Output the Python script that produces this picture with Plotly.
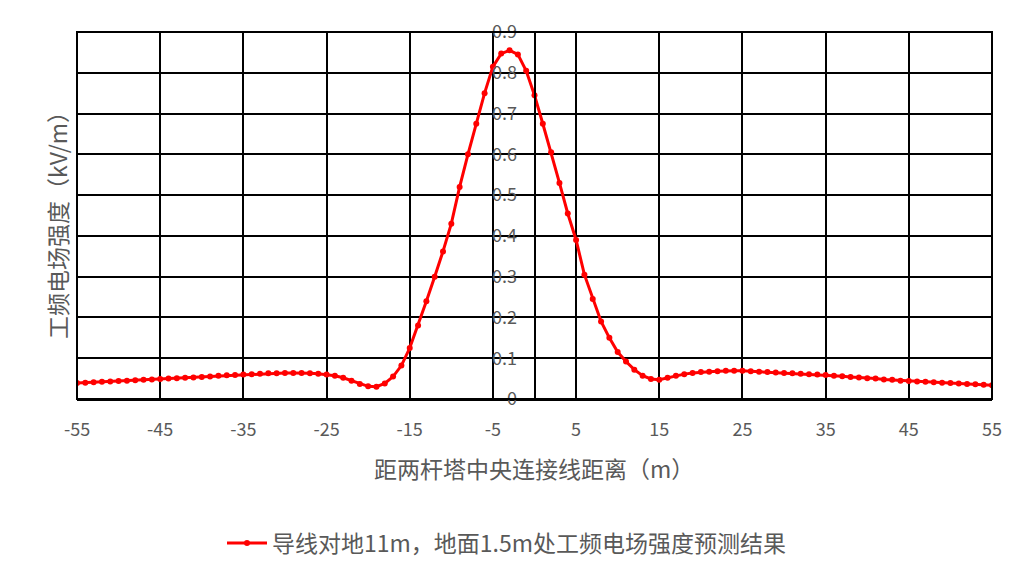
import plotly.graph_objects as go

distance_m = list(range(-55, 56))
field_kv_m = [
    0.039, 0.040, 0.041, 0.042, 0.043, 0.044, 0.045, 0.046, 0.047, 0.048,
    0.049, 0.050, 0.051, 0.052, 0.053, 0.054, 0.055, 0.057, 0.058, 0.059,
    0.060, 0.061, 0.062, 0.063, 0.063, 0.064, 0.064, 0.064, 0.063, 0.062,
    0.060, 0.057, 0.052, 0.045, 0.037, 0.031, 0.030, 0.038, 0.055, 0.082,
    0.125, 0.180, 0.240, 0.300, 0.362, 0.430, 0.520, 0.600, 0.675, 0.750,
    0.815, 0.847, 0.855, 0.845, 0.805, 0.745, 0.675, 0.605, 0.530, 0.455,
    0.390, 0.305, 0.245, 0.190, 0.150, 0.115, 0.092, 0.072, 0.057, 0.049,
    0.047, 0.052, 0.057, 0.061, 0.064, 0.066, 0.067, 0.068, 0.069, 0.069,
    0.069, 0.068, 0.067, 0.066, 0.065, 0.064, 0.063, 0.062, 0.061, 0.060,
    0.059, 0.057, 0.056, 0.054, 0.053, 0.051, 0.050, 0.048, 0.047, 0.045,
    0.044, 0.043, 0.042, 0.041, 0.040, 0.039, 0.038, 0.037, 0.036, 0.035,
    0.034,
]
x_ticks = list(range(-55, 56, 10))
x_tick_text = ["-55", "-45", "-35", "-25", "-15", "-5", "5", "15", "25", "35", "45", "55"]
y_ticks = [0, 0.1, 0.2, 0.3, 0.4, 0.5, 0.6, 0.7, 0.8, 0.9]
y_tick_text = ["0", "0.1", "0.2", "0.3", "0.4", "0.5", "0.6", "0.7", "0.8", "0.9"]

series_name = "导线对地11m，地面1.5m处工频电场强度预测结果"
x_title = "距两杆塔中央连接线距离（m）"
y_title = "工频电场强度（kV/m）"

FONT = "Noto Sans CJK SC"
GRAY = "#595959"

# page offset caused by default body margin
OFF = 8

fig = go.Figure()
fig.add_trace(go.Scatter(
    x=distance_m, y=field_kv_m, name=series_name,
    mode="lines+markers",
    line=dict(color="#FF0000", width=3),
    marker=dict(color="#FF0000", size=6),
))

W, H = 998, 562
ml, mt = 77 - OFF, 32 - OFF
mr = W - (992 - OFF)
mb = H - (399 - OFF)
pw, ph = W - ml - mr, H - mt - mb

def py(page_y):
    return (399 - page_y) / ph

def px(page_x):
    return (page_x - 77) / pw

fig.update_layout(
    width=W, height=H,
    margin=dict(l=ml, r=mr, t=mt, b=mb, autoexpand=False),
    paper_bgcolor="white", plot_bgcolor="white",
    font=dict(family=FONT, color=GRAY, size=18),
    showlegend=True,
    legend=dict(orientation="h", x=px(507), xanchor="center",
                y=py(543), yanchor="middle", itemwidth=40,
                font=dict(size=23, color=GRAY, family=FONT),
                bgcolor="rgba(0,0,0,0)"),
    xaxis=dict(range=[-55, 55], tickvals=x_ticks, ticktext=x_tick_text,
               showgrid=True, gridcolor="black", gridwidth=2, zeroline=False,
               showline=True, linecolor="black", linewidth=2, automargin=False,
               ticks="outside", ticklen=13, tickcolor="rgba(0,0,0,0)",
               tickfont=dict(size=18, color=GRAY, family=FONT)),
    yaxis=dict(range=[0, 0.9], tickvals=y_ticks, ticktext=y_tick_text,
               showgrid=True, gridcolor="black", gridwidth=2,
               zeroline=False, anchor="free", position=0.5, automargin=False,
               showline=True, linecolor="black", linewidth=2,
               ticks="outside", ticklen=13, tickcolor="rgba(0,0,0,0)",
               tickfont=dict(size=18, color=GRAY, family=FONT)),
    shapes=[
        dict(type="rect", xref="paper", yref="paper", x0=0, x1=1, y0=0, y1=1,
             line=dict(color="black", width=2), fillcolor="rgba(0,0,0,0)", layer="above"),
    ],
    annotations=[
        dict(text=x_title, xref="paper", yref="paper",
             x=px(534), y=py(468), xanchor="center", yanchor="middle",
             showarrow=False, font=dict(size=23, color=GRAY, family=FONT)),
        dict(text=y_title, xref="paper", yref="paper", textangle=-90,
             x=px(57), y=py(220), xanchor="center", yanchor="middle",
             showarrow=False, font=dict(size=23, color=GRAY, family=FONT)),
    ],
)

fig.write_html("out.html")
